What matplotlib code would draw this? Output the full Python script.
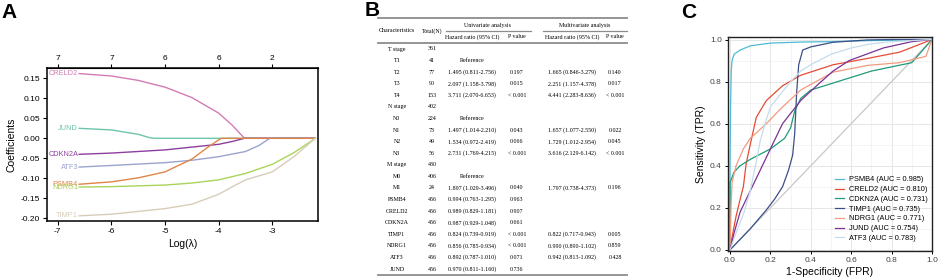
import matplotlib
matplotlib.use("Agg")
import matplotlib.pyplot as plt
from matplotlib.lines import Line2D

plt.rcParams['font.family'] = ['Liberation Sans', 'DejaVu Sans']
plt.rcParams['axes.unicode_minus'] = False

# ===========================
# Panel A: LASSO coefficient paths
# ===========================
lasso_genes = ["CRELD2", "JUND", "CDKN2A", "ATF3", "PSMB4", "NDRG1", "TIMP1"]
lasso_colors = ["#d27bb4", "#6cc5ac", "#8d3f9f", "#9aa4cf", "#e08547", "#a9d45a", "#d9cdb9"]
lasso_x = {
    "CRELD2": [-6.6, -6.0, -5.5, -5.0, -4.5, -4.0, -3.75, -3.52, -2.2],
    "JUND":   [-6.6, -6.0, -5.5, -5.3, -5.2, -2.2],
    "CDKN2A": [-6.6, -6.0, -5.0, -4.5, -4.0, -3.75, -3.52, -2.2],
    "ATF3":   [-6.6, -6.0, -5.0, -4.5, -4.0, -3.5, -3.25, -3.05, -2.2],
    "PSMB4":  [-6.6, -6.0, -5.5, -5.0, -4.5, -4.2, -4.0, -3.95, -2.2],
    "NDRG1":  [-6.6, -6.0, -5.0, -4.5, -4.0, -3.5, -3.0, -2.6, -2.2],
    "TIMP1":  [-6.6, -6.0, -5.0, -4.5, -4.0, -3.7, -3.5, -3.0, -2.6, -2.2],
}
lasso_y = {
    "CRELD2": [0.162, 0.156, 0.145, 0.128, 0.102, 0.063, 0.033, 0.0, 0.0],
    "JUND":   [0.025, 0.021, 0.010, 0.002, 0.0, 0.0],
    "CDKN2A": [-0.040, -0.037, -0.029, -0.022, -0.015, -0.008, 0.0, 0.0],
    "ATF3":   [-0.072, -0.068, -0.061, -0.055, -0.046, -0.033, -0.018, 0.0, 0.0],
    "PSMB4":  [-0.115, -0.109, -0.099, -0.084, -0.052, -0.022, -0.004, 0.0, 0.0],
    "NDRG1":  [-0.122, -0.121, -0.117, -0.112, -0.104, -0.088, -0.065, -0.036, 0.0],
    "TIMP1":  [-0.194, -0.190, -0.176, -0.165, -0.140, -0.118, -0.104, -0.084, -0.046, 0.0],
}
top_ticks = [-7, -6, -5, -4, -3]
top_labels = ["7", "7", "6", "6", "2"]

# ===========================
# Panel B: Cox regression table
# ===========================
tab_char = ["T stage", "T1", "T2", "T3", "T4", "N stage", "N0", "N1", "N2", "N3",
            "M stage", "M0", "M1", "PSMB4", "CRELD2", "CDKN2A", "TIMP1", "NDRG1", "ATF3", "JUND"]
tab_total = ["361", "41", "77", "90", "153", "402", "224", "73", "49", "56",
             "430", "406", "24", "456", "456", "456", "456", "456", "456", "456"]
uni_hr = ["", "Reference", "1.495 (0.811-2.756)", "2.097 (1.158-3.798)", "3.711 (2.070-6.653)",
          "", "Reference", "1.497 (1.014-2.210)", "1.534 (0.972-2.419)", "2.731 (1.769-4.215)",
          "", "Reference", "1.897 (1.029-3.496)", "0.994 (0.763-1.295)", "0.989 (0.829-1.181)",
          "0.987 (0.929-1.048)", "0.824 (0.739-0.919)", "0.856 (0.785-0.934)",
          "0.892 (0.787-1.010)", "0.970 (0.811-1.160)"]
uni_p = ["", "", "0.197", "0.015", "< 0.001", "", "", "0.043", "0.066", "< 0.001",
         "", "", "0.040", "0.963", "0.907", "0.661", "< 0.001", "< 0.001", "0.071", "0.736"]
multi_hr = ["", "", "1.665 (0.846-3.279)", "2.251 (1.157-4.378)", "4.441 (2.283-8.636)",
            "", "", "1.657 (1.077-2.550)", "1.729 (1.012-2.954)", "3.616 (2.129-6.142)",
            "", "", "1.797 (0.738-4.373)", "", "", "", "0.822 (0.717-0.943)",
            "0.990 (0.890-1.102)", "0.942 (0.813-1.092)", ""]
multi_p = ["", "", "0.140", "0.017", "< 0.001", "", "", "0.022", "0.045", "< 0.001",
           "", "", "0.196", "", "", "", "0.005", "0.859", "0.428", ""]

# ===========================
# Panel C: ROC curves
# ===========================
roc_names = ["PSMB4", "CRELD2", "CDKN2A", "TIMP1", "NDRG1", "JUND", "ATF3"]
roc_auc = ["0.985", "0.810", "0.731", "0.735", "0.771", "0.754", "0.783"]
roc_colors = ["#4dbbd5", "#e64b35", "#1f9a7a", "#3c4f88", "#f39b7f", "#7b3294", "#c6dcec"]
roc_fpr = {
    "PSMB4":  [0.0, 0.0, 0.003, 0.006, 0.01, 0.02, 0.05, 0.1, 0.2, 0.35, 0.5, 0.7, 1.0],
    "CRELD2": [0.0, 0.01, 0.03, 0.05, 0.066, 0.08, 0.1, 0.13, 0.18, 0.26, 0.35, 0.51, 0.68, 0.84, 1.0],
    "CDKN2A": [0.0, 0.0, 0.02, 0.05, 0.1, 0.2, 0.27, 0.3, 0.32, 0.35, 0.4, 0.5, 0.6, 0.7, 0.8, 0.9, 1.0],
    "TIMP1":  [0.0, 0.05, 0.1, 0.18, 0.22, 0.26, 0.29, 0.31, 0.32, 0.33, 0.34, 0.36, 0.4, 0.51, 0.68, 0.8, 1.0],
    "NDRG1":  [0.0, 0.005, 0.01, 0.03, 0.066, 0.1, 0.18, 0.25, 0.35, 0.51, 0.68, 0.84, 0.97, 1.0],
    "JUND":   [0.0, 0.02, 0.05, 0.1, 0.14, 0.18, 0.26, 0.35, 0.44, 0.51, 0.59, 0.76, 0.9, 1.0],
    "ATF3":   [0.0, 0.03, 0.07, 0.1, 0.13, 0.15, 0.18, 0.2, 0.25, 0.3, 0.35, 0.4, 0.5, 0.6, 0.7, 0.8, 1.0],
}
roc_tpr = {
    "PSMB4":  [0.0, 0.4, 0.7, 0.85, 0.9, 0.93, 0.95, 0.97, 0.983, 0.988, 0.99, 0.995, 1.0],
    "CRELD2": [0.0, 0.06, 0.16, 0.24, 0.3, 0.41, 0.5, 0.63, 0.71, 0.78, 0.83, 0.88, 0.91, 0.94, 1.0],
    "CDKN2A": [0.0, 0.32, 0.37, 0.40, 0.43, 0.48, 0.53, 0.58, 0.66, 0.72, 0.76, 0.79, 0.82, 0.85, 0.87, 0.89, 1.0],
    "TIMP1":  [0.0, 0.05, 0.1, 0.19, 0.24, 0.3, 0.38, 0.45, 0.55, 0.75, 0.88, 0.95, 0.965, 0.987, 0.998, 1.0, 1.0],
    "NDRG1":  [0.0, 0.2, 0.32, 0.4, 0.48, 0.53, 0.6, 0.67, 0.76, 0.845, 0.877, 0.89, 0.92, 1.0],
    "JUND":   [0.0, 0.08, 0.18, 0.28, 0.36, 0.44, 0.6, 0.71, 0.79, 0.85, 0.9, 0.96, 0.99, 1.0],
    "ATF3":   [0.0, 0.08, 0.18, 0.28, 0.42, 0.52, 0.62, 0.68, 0.74, 0.8, 0.85, 0.88, 0.93, 0.96, 0.98, 0.99, 1.0],
}

fig = plt.figure(figsize=(9.41, 2.77), dpi=100)

# overlay in pixel coordinates for the table and panel letters
ov = fig.add_axes([0, 0, 1, 1], zorder=-1)
ov.set_xlim(0, 941)
ov.set_ylim(277, 0)
ov.axis("off")

# ---------- A ----------
axA = fig.add_axes([47 / 941, 1 - 221 / 277, 271 / 941, 153 / 277])
for g, c in zip(lasso_genes, lasso_colors):
    axA.plot(lasso_x[g], lasso_y[g], color=c, lw=1.0)
    axA.text(lasso_x[g][0] - 0.02, lasso_y[g][0], g, color=c, fontsize=5.3,
             ha="right", va="center")
axA.set_xlim(-7.2, -2.15)
axA.set_ylim(-0.207, 0.176)
axA.set_xticks([-7, -6, -5, -4, -3])
axA.set_yticks([-0.20, -0.15, -0.10, -0.05, 0.0, 0.05, 0.10, 0.15])
axA.set_yticklabels(["-0.20", "-0.15", "-0.10", "-0.05", "0.00", "0.05", "0.10", "0.15"])
axA.tick_params(labelsize=6, length=3, width=0.8, pad=2)
axA.set_xlabel("Log(λ)", fontsize=7.5, labelpad=3)
axA.set_ylabel("Coefficients", fontsize=7.5, labelpad=3)
for s in axA.spines.values():
    s.set_linewidth(1.1)
top = axA.secondary_xaxis("top")
top.set_xticks(top_ticks)
top.set_xticklabels(top_labels)
top.tick_params(labelsize=6, length=3, width=0.8, pad=1)
ov.text(9, 12, "A", fontsize=15, fontweight="bold", ha="center", va="center")

# ---------- B ----------
tab_font = dict(family=["Liberation Serif", "DejaVu Serif"], fontsize=4.3, ha="center", va="center")
col_x = [397, 432, 472, 517, 572, 615]
row_y0, row_dy = 49, 11.58
ov.plot([378, 627], [18, 18], color="#8c8c8c", lw=1.3)
ov.plot([446, 531], [31, 31], color="#8c8c8c", lw=0.9)
ov.plot([543, 627], [31, 31], color="#8c8c8c", lw=0.9)
ov.plot([378, 627], [43, 43], color="#8c8c8c", lw=1.3)
ov.plot([378, 627], [275, 275], color="#8c8c8c", lw=1.3)
ov.text(col_x[0], 31, "Characteristics", **tab_font)
ov.text(col_x[1], 31, "Total(N)", **tab_font)
ov.text(488, 25, "Univariate analysis", **tab_font)
ov.text(585, 25, "Multivariate analysis", **tab_font)
for xx, lab in zip(col_x[2:], ["Hazard ratio (95% CI)", "P value", "Hazard ratio (95% CI)", "P value"]):
    ov.text(xx, 37, lab, **tab_font)
for i in range(len(tab_char)):
    y = row_y0 + i * row_dy
    for xx, col in zip(col_x, [tab_char, tab_total, uni_hr, uni_p, multi_hr, multi_p]):
        if col[i]:
            ov.text(xx, y, col[i], **tab_font)
ov.text(372, 11, "B", fontsize=15, fontweight="bold", ha="center", va="center")

# ---------- C ----------
axC = fig.add_axes([728 / 941, 1 - 250.5 / 277, 204 / 941, 213.5 / 277])
axC.set_xlim(-0.01, 1.0)
axC.set_ylim(-0.003, 1.012)
axC.set_xticks([0, 0.2, 0.4, 0.6, 0.8, 1.0])
axC.set_yticks([0, 0.2, 0.4, 0.6, 0.8, 1.0])
axC.set_xticks([0.1, 0.3, 0.5, 0.7, 0.9], minor=True)
axC.set_yticks([0.1, 0.3, 0.5, 0.7, 0.9], minor=True)
axC.grid(which="major", color="#e6e6e6", lw=0.7)
axC.grid(which="minor", color="#f0f0f0", lw=0.5)
axC.set_axisbelow(True)
axC.plot([0, 1], [0, 1], color="#c8c8c8", lw=0.9)
handles = []
for n, a, c in zip(roc_names, roc_auc, roc_colors):
    axC.plot(roc_fpr[n], roc_tpr[n], color=c, lw=0.9)
    handles.append(Line2D([0], [0], color=c, lw=0.9, label=f"{n} (AUC = {a})"))
axC.legend(handles=handles, loc="lower right", frameon=False, fontsize=5.3,
           handlelength=1.3, handletextpad=0.6, labelspacing=0.35,
           bbox_to_anchor=(1.0, 0.02), borderaxespad=0.2)
axC.tick_params(which="major", labelsize=6, length=2.5, width=0.7, pad=2, labelcolor="#444444")
axC.tick_params(which="minor", length=0)
axC.set_xlabel("1-Specificity (FPR)", fontsize=7.5, labelpad=2)
axC.set_ylabel("Sensitivity (TPR)", fontsize=7.5, labelpad=3)
for s in axC.spines.values():
    s.set_linewidth(1.0)
    s.set_color("#222222")
ov.text(689, 12, "C", fontsize=15, fontweight="bold", ha="center", va="center")

fig.savefig("out.png", dpi=100)
